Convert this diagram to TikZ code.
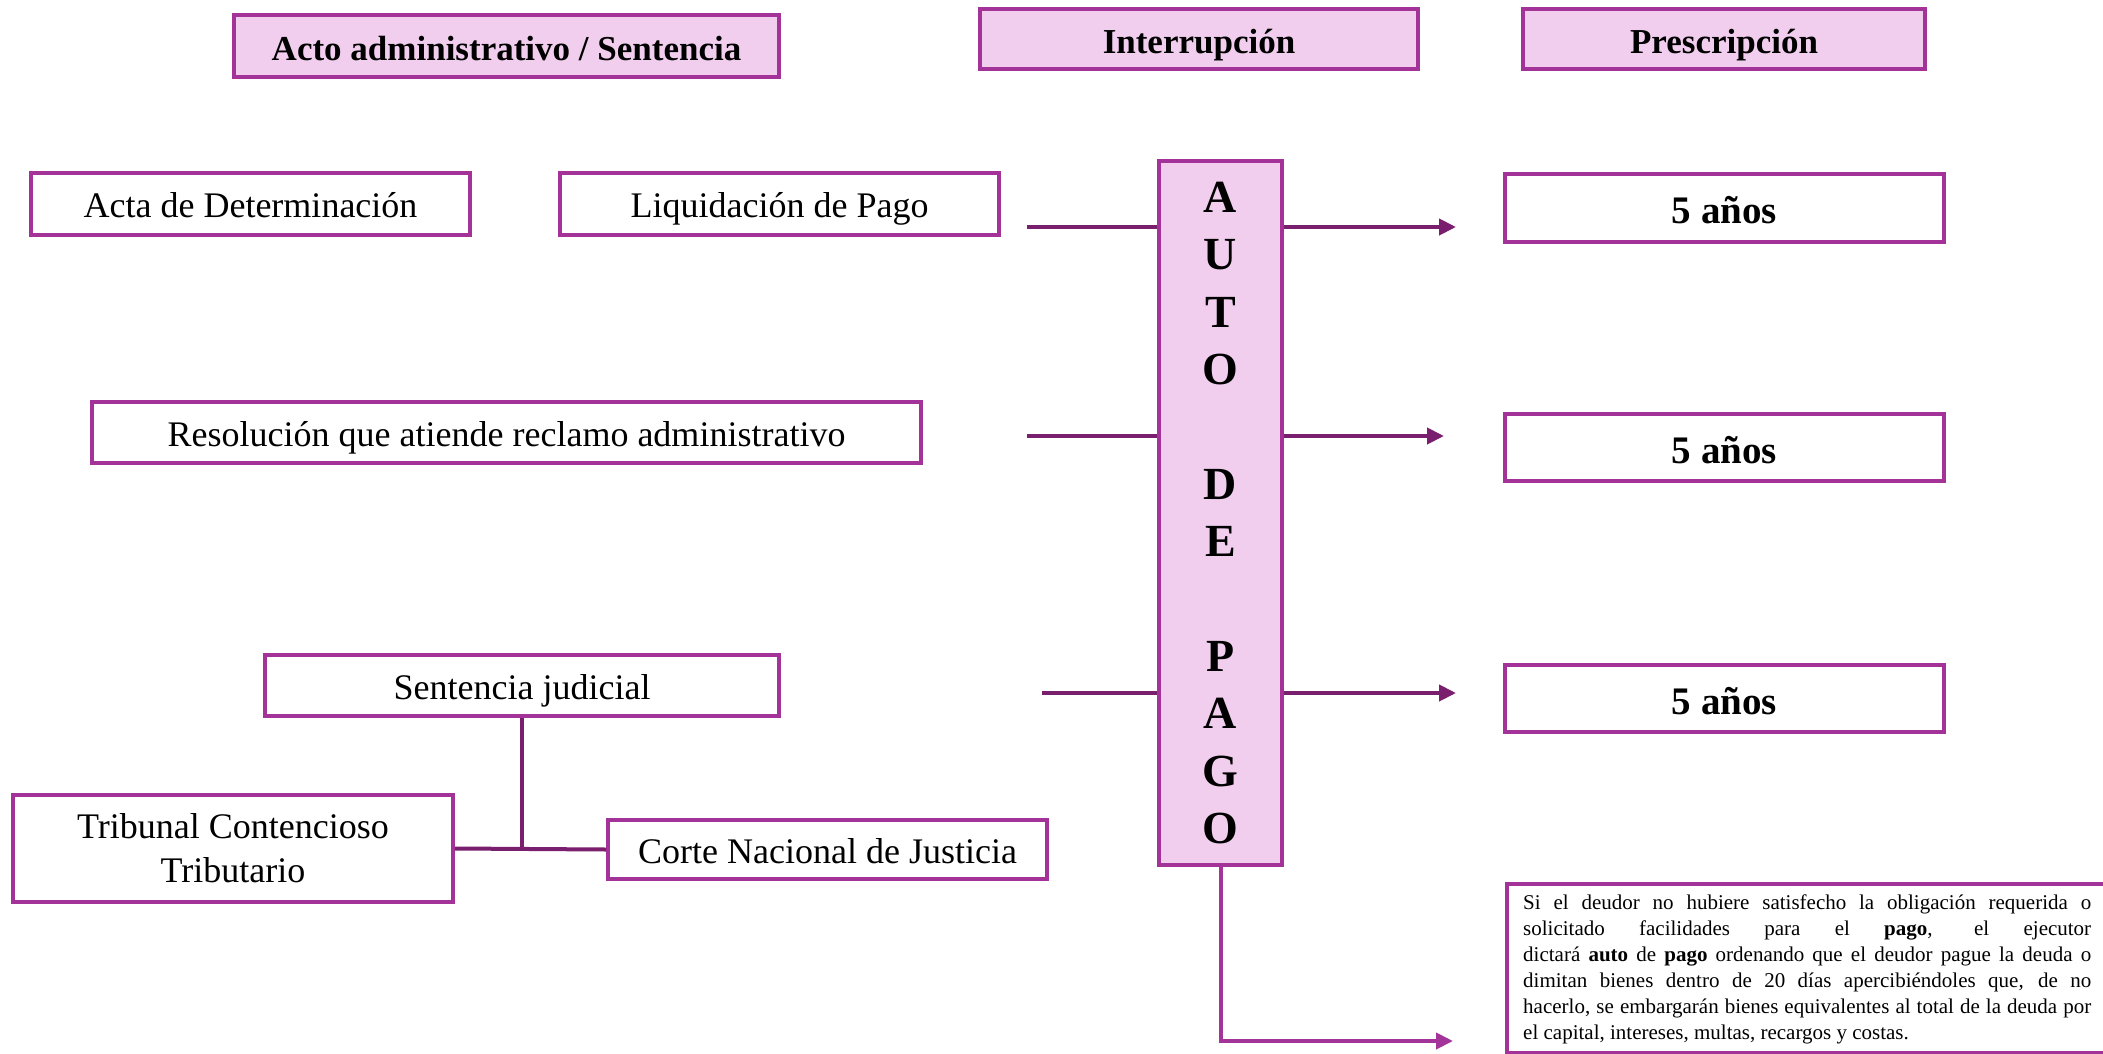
\documentclass[tikz,border=0pt]{standalone}
\usepackage{fontspec}
\setmainfont{Liberation Serif}
\usetikzlibrary{arrows.meta}
\definecolor{bord}{RGB}{163,50,153}
\definecolor{pinkfill}{RGB}{242,206,238}
\definecolor{conn}{RGB}{122,31,110}
\definecolor{conn2}{RGB}{163,53,154}
\begin{document}
\begin{tikzpicture}[x=1pt,y=-1pt,
  box/.style={draw=bord, line width=4pt, fill=white, inner sep=0pt, align=center, font=\fontsize{36}{44}\selectfont},
  one/.style={box, text height=33.5pt, text depth=6.5pt},
  head/.style={box, fill=pinkfill, font=\fontsize{35}{42}\selectfont\bfseries, text height=35pt, text depth=5.8pt},
  yrs/.style={box, font=\fontsize{39}{46}\selectfont\bfseries, text height=36pt, text depth=4.2pt},
  link/.style={draw=conn, line width=4pt},
  arr/.style={link, -{Triangle[length=17pt,width=16pt]}}]
\useasboundingbox (0,0) rectangle (2103,1054);
\clip (0,0) rectangle (2103,1054);
\fill[white] (0,0) rectangle (2103,1054);
% headers
\node[head, minimum width=545pt, minimum height=62pt] (h1) at (506.5,46) {Acto administrativo / Sentencia};
\node[head, minimum width=438pt, minimum height=60pt] (h2) at (1199,39) {Interrupción};
\node[head, minimum width=402pt, minimum height=60pt] (h3) at (1724,39) {Prescripción};
% left boxes
\node[one, minimum width=439pt, minimum height=62pt] (acta) at (250.5,204) {Acta de Determinación};
\node[one, minimum width=439pt, minimum height=62pt] (liq) at (779.5,204) {Liquidación de Pago};
\node[one, minimum width=829pt, minimum height=61pt] (res) at (506.5,432.5) {Resolución que atiende reclamo administrativo};
\node[one, minimum width=514pt, minimum height=61pt] (sent) at (522,685.5) {Sentencia judicial};
\node[box, minimum width=440pt, minimum height=107pt] (trib) at (233,848.5) {Tribunal Contencioso\\Tributario};
\node[one, minimum width=439pt, minimum height=59pt] (corte) at (827.5,849.5) {Corte Nacional de Justicia};
% central box
\node[box, fill=pinkfill, minimum width=123pt, minimum height=704pt, font=\fontsize{46}{57.4}\selectfont\bfseries] (auto) at (1220.5,513)
  {A\\U\\T\\O\\\mbox{}\\D\\E\\\mbox{}\\P\\A\\G\\O};
% right boxes
\node[yrs, minimum width=439pt, minimum height=68pt] (y1) at (1724.5,208) {5 años};
\node[yrs, minimum width=439pt, minimum height=67pt] (y2) at (1724.5,447.5) {5 años};
\node[yrs, minimum width=439pt, minimum height=67pt] (y3) at (1724.5,698.5) {5 años};
% note
\node[draw=bord, line width=4pt, fill=white, inner sep=0pt, anchor=north west, minimum width=640pt, minimum height=169pt] (note) at (1505,882) {};
\node[anchor=north west, inner sep=0pt, text width=568pt, align=justify, font=\fontsize{21}{26}\selectfont] (notetext) at (1523,895)
  {\noindent Si el deudor no hubiere satisfecho la obligación requerida o\linebreak
   solicitado facilidades para el \textbf{pago}, el ejecutor\linebreak
   dictará \textbf{auto} de \textbf{pago} ordenando que el deudor pague la deuda o\linebreak
   dimitan bienes dentro de 20 días apercibiéndoles que, de no\linebreak
   hacerlo, se embargarán bienes equivalentes al total de la deuda por\linebreak
   el capital, intereses, multas, recargos y costas.};
% connector coordinates
\coordinate (s1) at (1027,227);
\coordinate (e1) at (1456,227);
\coordinate (s2) at (1027,436);
\coordinate (e2) at (1444,436);
\coordinate (s3) at (1042,693);
\coordinate (e3) at (1456,693);
\coordinate (e4) at (1453,1041);
\draw[link] (s1) -- (auto.west |- s1);
\draw[arr] (auto.east |- e1) -- (e1);
\draw[link] (s2) -- (auto.west |- s2);
\draw[arr] (auto.east |- e2) -- (e2);
\draw[link] (s3) -- (auto.west |- s3);
\draw[arr] (auto.east |- e3) -- (e3);
\draw[arr, draw=conn2] (auto.south) |- (e4);
% tree
\draw[link] (sent.south) -- (sent.south |- trib.east);
\draw[link] (trib.east) -- (corte.west);
\end{tikzpicture}
\end{document}
